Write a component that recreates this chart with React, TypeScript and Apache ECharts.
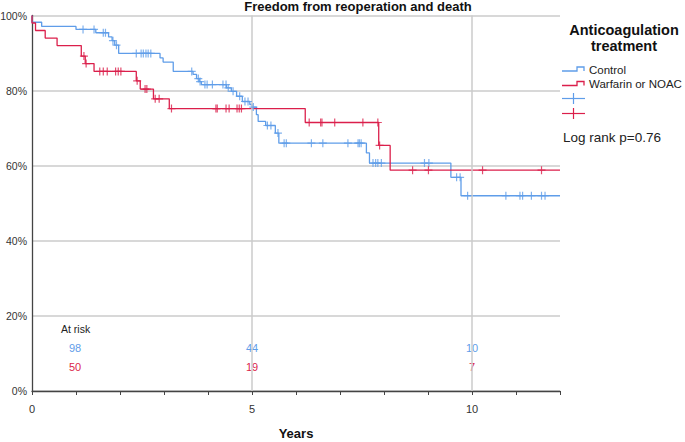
import React, { useEffect, useRef } from "react";
import * as echarts from "echarts";

// Kaplan-Meier steps: [years, survival %]
const controlSteps: [number, number][] = [
  [0, 100], [0, 98.2], [0.22, 97.1], [1.0, 96.3], [1.45, 95.4], [1.74, 94.3],
  [1.82, 93.3], [1.88, 92.1], [1.97, 89.9], [2.91, 88.7], [2.98, 87.6],
  [3.21, 85.1], [3.66, 84.3], [3.74, 83.2], [3.8, 82.4], [3.85, 81.6],
  [4.42, 80.7], [4.53, 79.8], [4.65, 78.5], [4.78, 77.1], [4.95, 76.3],
  [5.0, 75.6], [5.1, 73.6], [5.14, 71.8], [5.31, 70.7], [5.53, 68.7],
  [5.61, 66.0], [7.6, 63.4], [7.67, 60.7], [9.52, 56.9], [9.75, 52.0], [12, 52.0],
];
const warfarinSteps: [number, number][] = [
  [0, 100], [0, 98], [0.08, 96], [0.3, 94], [0.57, 92], [1.12, 89.2],
  [1.21, 87.2], [1.41, 85.1], [2.37, 82.6], [2.46, 80.4], [2.76, 77.8],
  [3.12, 75.2], [6.21, 71.5], [7.88, 65.4], [8.14, 58.8], [12, 58.8],
];
// censored observation times (years)
const controlCensored = [
  1.16, 1.41, 1.62, 1.67, 1.84, 1.92, 2.37, 2.48, 2.53, 2.59, 2.64, 2.7,
  3.63, 3.78, 3.82, 3.93, 3.98, 4.1, 4.34, 4.41, 4.46, 4.57, 4.72, 4.84,
  4.91, 5.03, 5.35, 5.43, 5.59, 5.73, 5.78, 6.35, 6.61, 7.18, 7.41, 7.44,
  7.48, 7.75, 7.81, 7.86, 7.94, 8.92, 9.02, 9.65, 9.73, 9.9, 10.77, 11.09,
  11.15, 11.35, 11.58, 11.66,
];
const warfarinCensored = [
  1.18, 1.23, 1.54, 1.62, 1.71, 1.9, 1.96, 2.02, 2.39, 2.57, 2.61, 2.8,
  2.89, 3.17, 4.18, 4.21, 4.41, 4.48, 4.66, 4.71, 4.76, 6.3, 6.56, 6.59,
  6.88, 7.52, 7.86, 7.9, 8.65, 9.01, 10.24, 11.58,
];
const atRiskControl = [98, 44, 10];
const atRiskWarfarin = [50, 19, 7];
const yTickLabels = ["0%", "20%", "40%", "60%", "80%", "100%"];
const groupNames = ["Control", "Warfarin or NOAC"];

const BLUE = "#5f9de9";
const RED = "#db1f4b";
const FONT = "'Liberation Sans', Arial, sans-serif";

function levelAt(steps: [number, number][], t: number): number {
  let v = steps[0][1];
  for (const [x, y] of steps) {
    if (x <= t) v = y;
    else break;
  }
  return v;
}

const PLUS = "path://M5,0L5,10M0,5L10,5";

export default function App() {
  const ref = useRef<HTMLDivElement>(null);
  useEffect(() => {
    if (!ref.current) return;
    const chart = echarts.init(ref.current, undefined, { renderer: "svg" });
    const atRiskX = [75, 252, 472];
    const graphic: any[] = [
      {
        type: "text",
        x: 358,
        y: 6,
        style: {
          text: "Freedom from reoperation and death",
          font: `bold 13px ${FONT}`,
          fill: "#111",
          textAlign: "center",
          textVerticalAlign: "middle",
        },
      },
      {
        type: "text",
        x: 624,
        y: 30,
        style: { text: "Anticoagulation", font: `bold 14.5px ${FONT}`, fill: "#111", textAlign: "center", textVerticalAlign: "middle" },
      },
      {
        type: "text",
        x: 624,
        y: 45.5,
        style: { text: "treatment", font: `bold 14.5px ${FONT}`, fill: "#111", textAlign: "center", textVerticalAlign: "middle" },
      },
      {
        type: "polyline",
        shape: { points: [[562, 71], [577, 71], [577, 67], [584, 67], [584, 71]] },
        style: { stroke: BLUE, lineWidth: 1.3, fill: "none" },
      },
      {
        type: "polyline",
        shape: { points: [[562, 85.5], [577, 85.5], [577, 81.5], [584, 81.5], [584, 85.5]] },
        style: { stroke: RED, lineWidth: 1.3, fill: "none" },
      },
      {
        type: "text",
        x: 589,
        y: 69.5,
        style: { text: groupNames[0], font: `11.5px ${FONT}`, fill: "#222", textVerticalAlign: "middle" },
      },
      {
        type: "text",
        x: 589,
        y: 84,
        style: { text: groupNames[1], font: `11.5px ${FONT}`, fill: "#222", textVerticalAlign: "middle" },
      },
      { type: "line", shape: { x1: 562, y1: 98.5, x2: 585, y2: 98.5 }, style: { stroke: BLUE, lineWidth: 1.2 } },
      { type: "line", shape: { x1: 573.5, y1: 93, x2: 573.5, y2: 104 }, style: { stroke: BLUE, lineWidth: 1.2 } },
      { type: "line", shape: { x1: 562, y1: 113.5, x2: 585, y2: 113.5 }, style: { stroke: RED, lineWidth: 1.2 } },
      { type: "line", shape: { x1: 573.5, y1: 108, x2: 573.5, y2: 119 }, style: { stroke: RED, lineWidth: 1.2 } },
      {
        type: "text",
        x: 563,
        y: 137,
        style: { text: "Log rank p=0.76", font: `13.5px ${FONT}`, fill: "#222", textVerticalAlign: "middle" },
      },
      {
        type: "text",
        x: 61,
        y: 329,
        style: { text: "At risk", font: `10.5px ${FONT}`, fill: "#222", textVerticalAlign: "middle" },
      },
    ];
    atRiskControl.forEach((n, i) => {
      graphic.push({
        type: "text",
        x: atRiskX[i],
        y: 348,
        style: { text: String(n), font: `11px ${FONT}`, fill: BLUE, textAlign: "center", textVerticalAlign: "middle" },
      });
    });
    atRiskWarfarin.forEach((n, i) => {
      graphic.push({
        type: "text",
        x: atRiskX[i],
        y: 367,
        style: { text: String(n), font: `11px ${FONT}`, fill: RED, textAlign: "center", textVerticalAlign: "middle" },
      });
    });

    chart.setOption({
      animation: false,
      backgroundColor: "#fff",
      textStyle: { fontFamily: FONT },
      grid: {
        left: 32,
        right: 125,
        top: 15.5,
        bottom: 51,
        containLabel: false,
        outerBoundsMode: "none",
      },
      xAxis: {
        type: "value",
        min: 0,
        max: 12,
        interval: 1,
        name: "Years",
        nameLocation: "middle",
        nameGap: 36,
        nameTextStyle: { fontFamily: FONT, fontWeight: "bold", fontSize: 13, color: "#111" },
        axisLine: { show: true, lineStyle: { color: "#444", width: 1.3 } },
        axisTick: { show: true, length: 4, lineStyle: { color: "#444" } },
        axisLabel: {
          fontFamily: FONT,
          fontSize: 11,
          color: "#333",
          margin: 12,
          formatter: (v: number) => (v % 5 === 0 ? String(v) : ""),
        },
        splitLine: { show: false },
      },
      yAxis: {
        type: "value",
        min: 0,
        max: 100,
        interval: 20,
        axisLine: { show: true, lineStyle: { color: "#444", width: 1.3 } },
        axisTick: { show: false },
        axisLabel: {
          fontFamily: FONT,
          fontSize: 10.5,
          color: "#333",
          margin: 5,
          formatter: (v: number) => yTickLabels[Math.round(v / 20)],
        },
        splitLine: { show: true, lineStyle: { color: "#cbcbcb", width: 1.5 } },
      },
      graphic,
      series: [
        {
          type: "line",
          data: [],
          z: 1,
          silent: true,
          markLine: {
            silent: true,
            symbol: "none",
            label: { show: false },
            lineStyle: { color: "#cbcbcb", width: 1.5, type: "solid" },
            data: [{ xAxis: 5 }, { xAxis: 10 }],
          },
        },
        {
          name: groupNames[0],
          type: "line",
          step: "end",
          data: controlSteps,
          showSymbol: false,
          lineStyle: { color: BLUE, width: 1.3 },
          z: 3,
        },
        {
          name: groupNames[1],
          type: "line",
          step: "end",
          data: warfarinSteps,
          showSymbol: false,
          lineStyle: { color: RED, width: 1.3 },
          z: 4,
        },
        {
          type: "scatter",
          data: controlCensored.map((t) => [t, levelAt(controlSteps, t)]),
          symbol: PLUS,
          symbolSize: 8,
          itemStyle: { color: "none", borderColor: BLUE, borderWidth: 1.2 },
          z: 5,
        },
        {
          type: "scatter",
          data: warfarinCensored.map((t) => [t, levelAt(warfarinSteps, t)]),
          symbol: PLUS,
          symbolSize: 8,
          itemStyle: { color: "none", borderColor: RED, borderWidth: 1.2 },
          z: 6,
        },
      ],
    });
    return () => chart.dispose();
  }, []);
  return (
    <div
      ref={ref}
      style={{ position: "fixed", left: 0, top: 0, width: 685, height: 442 }}
    />
  );
}
